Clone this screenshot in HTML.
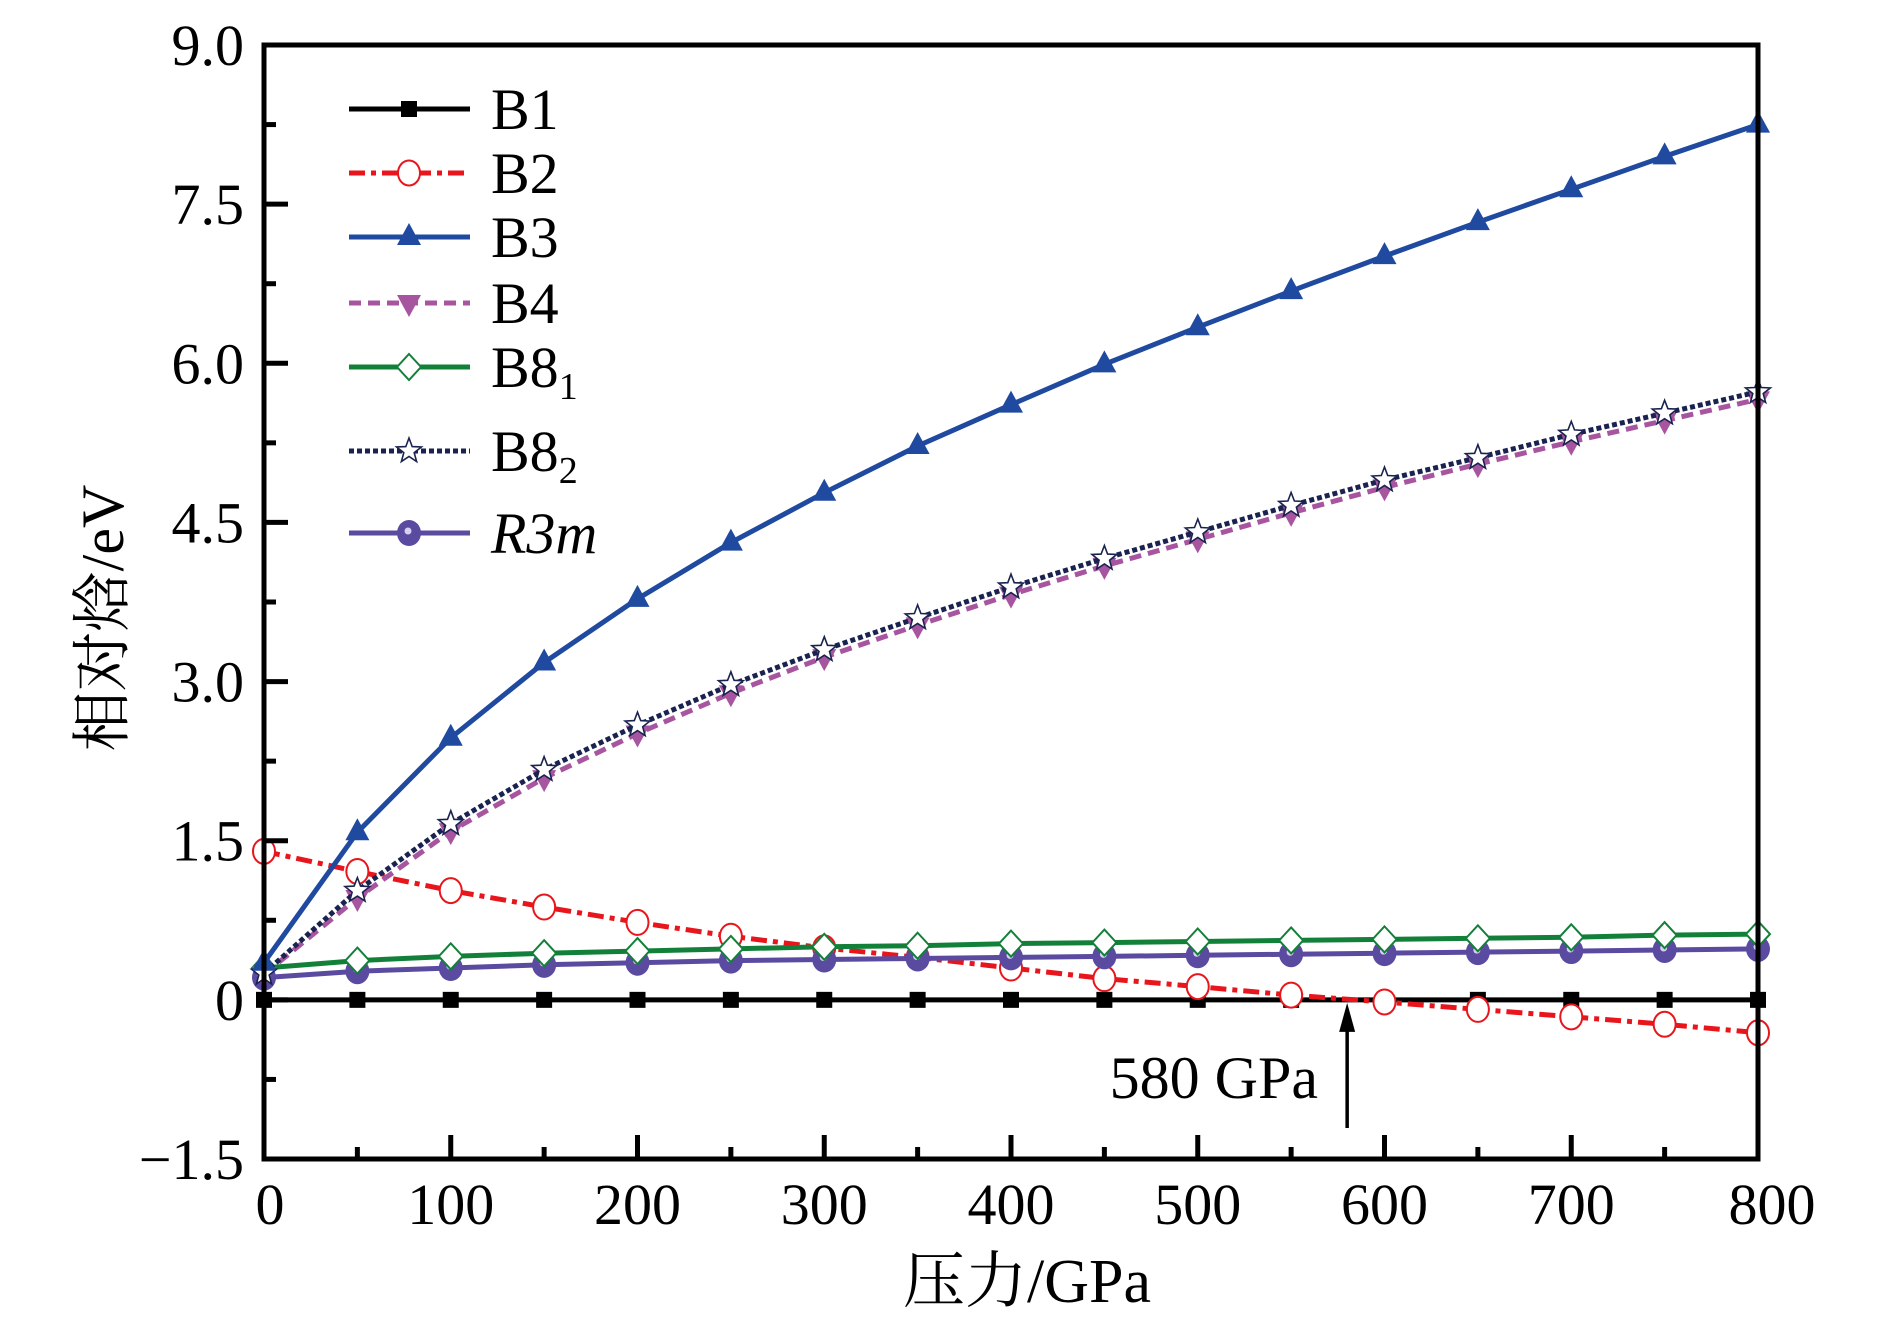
<!DOCTYPE html>
<html><head><meta charset="utf-8"><style>
body{margin:0;background:#fff}
svg{display:block}
text{font-family:"Liberation Serif","Noto Serif CJK SC",serif;fill:#000}
</style></head><body>
<svg id="chart" width="1890" height="1323" viewBox="0 0 1890 1323" xmlns="http://www.w3.org/2000/svg">
<g id="marks"></g>
<g id="axes"></g>
<g id="legend"></g>
<text x="103" y="618" font-size="60" text-anchor="middle" dominant-baseline="central" transform="rotate(-90 103 618)">相对焓/eV</text>
<text x="1027" y="1302" font-size="62" text-anchor="middle">压力/GPa</text>
<text x="1318" y="1098" font-size="60" text-anchor="end">580 GPa</text>
</svg>
<script>
const pressures=[0,50,100,150,200,250,300,350,400,450,500,550,600,650,700,750,800];
const b1=[0,0,0,0,0,0,0,0,0,0,0,0,0,0,0,0,0];
const b2=[1.40,1.21,1.03,0.875,0.73,0.60,0.49,0.40,0.30,0.20,0.125,0.045,-0.02,-0.09,-0.16,-0.23,-0.31];
const b3=[0.35,1.58,2.47,3.18,3.78,4.31,4.78,5.22,5.61,5.99,6.34,6.68,7.01,7.33,7.64,7.95,8.25];
const b4=[0.24,0.96,1.59,2.09,2.51,2.89,3.23,3.53,3.82,4.09,4.34,4.59,4.83,5.05,5.26,5.46,5.66];
const b81=[0.30,0.37,0.41,0.44,0.46,0.48,0.50,0.51,0.53,0.54,0.55,0.56,0.57,0.58,0.59,0.61,0.62];
const b82=[0.25,1.03,1.66,2.17,2.59,2.97,3.30,3.60,3.89,4.16,4.41,4.66,4.90,5.11,5.33,5.53,5.73];
const r3m=[0.21,0.27,0.30,0.33,0.35,0.37,0.38,0.39,0.40,0.41,0.42,0.43,0.44,0.45,0.46,0.47,0.48];
const yTicks=[-1.5,0,1.5,3.0,4.5,6.0,7.5,9.0];
const yTickLabels=["\u22121.5","0","1.5","3.0","4.5","6.0","7.5","9.0"];
const xTicks=[0,100,200,300,400,500,600,700,800];
const transitionP=580;

const L=264,R=1758,T=45,B=1159;
const X=v=>L+(v-0)/800*(R-L);
const Y=v=>T+(9-v)/10.5*(B-T);
const NS="http://www.w3.org/2000/svg";
function mk(tag,attrs,parent){const e=document.createElementNS(NS,tag);for(const k in attrs)e.setAttribute(k,attrs[k]);parent.appendChild(e);return e;}
const marks=document.getElementById('marks'),axes=document.getElementById('axes'),legend=document.getElementById('legend');

const series=[
 {name:'B1',data:b1,color:'#000',dash:'',w:5,m:'square'},
 {name:'B2',data:b2,color:'#e8161c',dash:'16 6 5 6',w:5,m:'circle'},
 {name:'B3',data:b3,color:'#1f4aa0',dash:'',w:5,m:'tri'},
 {name:'B4',data:b4,color:'#a855a0',dash:'12 7',w:5,m:'tridown'},
 {name:'B8₁',data:b81,color:'#13803a',dash:'',w:5,m:'diamond'},
 {name:'B8₂',data:b82,color:'#1a2350',dash:'5 3',w:5,m:'star'},
 {name:'R3m',data:r3m,color:'#5a4aa0',dash:'',w:5,m:'ball'}
];
function marker(g,type,cx,cy,s){
 let e;
 if(type==='square')e=mk('rect',{x:cx-8,y:cy-8,width:16,height:16,fill:'#000'},g);
 else if(type==='circle')e=mk('ellipse',{cx:cx,cy:cy,rx:11,ry:12.5,fill:'#fff',stroke:s.color,'stroke-width':2},g);
 else if(type==='tri')e=mk('polygon',{points:`${cx},${cy-14} ${cx+12},${cy+8} ${cx-12},${cy+8}`,fill:s.color},g);
 else if(type==='tridown')e=mk('polygon',{points:`${cx},${cy+14} ${cx+12},${cy-8} ${cx-12},${cy-8}`,fill:s.color},g);
 else if(type==='diamond')e=mk('polygon',{points:`${cx},${cy-13} ${cx+12},${cy} ${cx},${cy+13} ${cx-12},${cy}`,fill:'#fff',stroke:s.color,'stroke-width':2},g);
 else if(type==='star'){let p=[];for(let i=0;i<10;i++){const r=i%2?5.5:13,a=-Math.PI/2+i*Math.PI/5;p.push((cx+r*Math.cos(a)).toFixed(1)+','+(cy+r*Math.sin(a)).toFixed(1));}e=mk('polygon',{points:p.join(' '),fill:'#fff',stroke:s.color,'stroke-width':1.6},g);}
 else {e=mk('ellipse',{cx:cx,cy:cy,rx:12,ry:13,fill:s.color},g);mk('circle',{cx:cx-1,cy:cy-2,r:3.5,fill:'#d8d0f0'},g);}
 
 
}
const order=[0,1,6,4,3,5,2];
order.forEach(i=>{const s=series[i];
 const g=mk('g',{},marks);
 
 
 const pts=pressures.map((p,j)=>X(p).toFixed(1)+','+Y(s.data[j]).toFixed(1)).join(' ');
 const pl=mk('polyline',{points:pts,fill:'none',stroke:s.color,'stroke-width':s.w,'stroke-dasharray':s.dash},g);
 
 
 pressures.forEach((p,j)=>marker(g,s.m,X(p),Y(s.data[j]),s));
});
const ax=X(transitionP);
const arr=mk('line',{x1:ax,y1:1128,x2:ax,y2:Y(0)+24,stroke:'#000','stroke-width':3.5},marks);


const ah=mk('polygon',{points:`${ax},${Y(0)+3} ${ax+8},${Y(0)+32} ${ax-8},${Y(0)+32}`,fill:'#000'},marks);


const fr=mk('rect',{x:L,y:T,width:R-L,height:B-T,fill:'none',stroke:'#000','stroke-width':5},axes);


for(let v=-1.5;v<=9.001;v+=0.75){const major=Math.abs(v/1.5-Math.round(v/1.5))<1e-6;
 const t=mk('line',{x1:L,y1:Y(v),x2:L+(major?24:12),y2:Y(v),stroke:'#000','stroke-width':5},axes);
 
 }
for(let v=0;v<=800;v+=50){const major=v%100===0;
 const t=mk('line',{x1:X(v),y1:B,x2:X(v),y2:B-(major?24:12),stroke:'#000','stroke-width':5},axes);
 
 }
yTicks.forEach((v,i)=>{const t=mk('text',{x:244,y:Y(v)+20,'font-size':58,'text-anchor':'end'},axes);t.textContent=yTickLabels[i];
 
 });
xTicks.forEach(v=>{let xx=X(v);if(v===0)xx+=6;if(v===800)xx+=14;const t=mk('text',{x:xx,y:1224,'font-size':58,'text-anchor':'middle'},axes);t.textContent=v;
 
 });
const ly=[109,173,237,303,367,451,533];
series.forEach((s,i)=>{const g=mk('g',{},legend);
 
 
 mk('line',{x1:349,y1:ly[i],x2:470,y2:ly[i],stroke:s.color,'stroke-width':5,'stroke-dasharray':s.dash},g);
 marker(g,s.m,409,ly[i],s);
 const t=mk('text',{x:491,y:ly[i]+20,'font-size':58},g);
 if(s.name==='R3m'){t.setAttribute('font-style','italic');t.textContent='R3m';}
 else if(s.name.length>2){t.textContent=s.name.slice(0,2);const sub=mk('tspan',{'font-size':38,dy:12},t);sub.textContent=s.name==='B8₁'?'1':'2';}
 else t.textContent=s.name;
});
</script>
</body></html>
